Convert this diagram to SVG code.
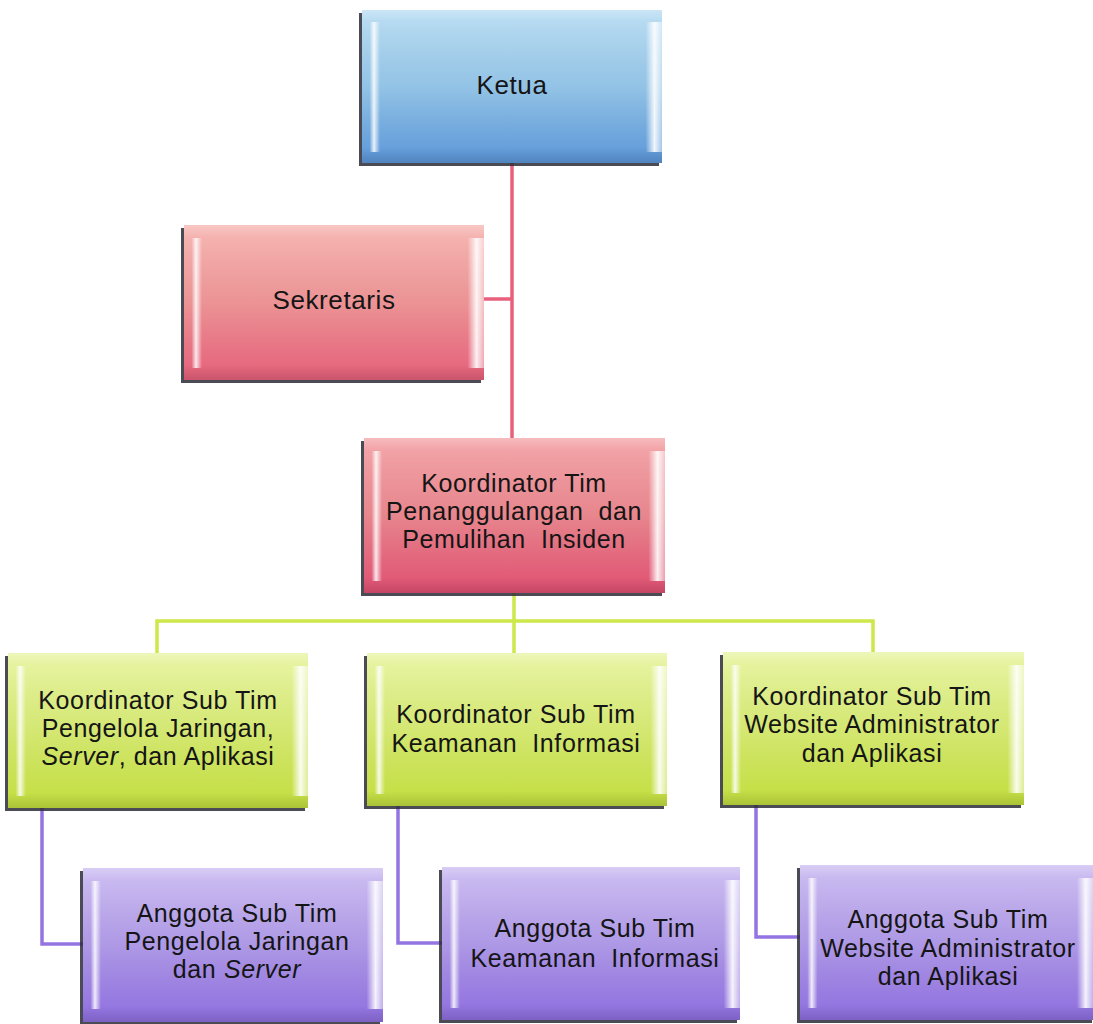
<svg xmlns="http://www.w3.org/2000/svg" width="1093" height="1024" viewBox="0 0 1093 1024">
<style>
  text{font-family:"Liberation Sans",Arial,sans-serif;font-size:25px;letter-spacing:0.6px;fill:#151515;text-anchor:middle;white-space:pre}
  .it{font-style:italic}
  .sh{fill:#2b2b38;opacity:.85}
  .bev{fill:url(#bev)}
  .bevv{fill:url(#bevv)}
  .con{fill:none;stroke-width:3.5}
</style>
<defs>
  <linearGradient id="gBlue" x1="0" y1="0" x2="0" y2="1">
    <stop offset="0" stop-color="#b4daf1"/><stop offset="0.5" stop-color="#94c6ea"/><stop offset="1" stop-color="#5b96d8"/>
  </linearGradient>
  <linearGradient id="gPink" x1="0" y1="0" x2="0" y2="1">
    <stop offset="0" stop-color="#f5b0ac"/><stop offset="0.5" stop-color="#f09496"/><stop offset="1" stop-color="#e5607a"/>
  </linearGradient>
  <linearGradient id="gRed" x1="0" y1="0" x2="0" y2="1">
    <stop offset="0" stop-color="#f29ea2"/><stop offset="0.5" stop-color="#ec868e"/><stop offset="1" stop-color="#df5072"/>
  </linearGradient>
  <linearGradient id="gGreen" x1="0" y1="0" x2="0" y2="1">
    <stop offset="0" stop-color="#e6f39c"/><stop offset="0.5" stop-color="#d8ec72"/><stop offset="1" stop-color="#c2dd3e"/>
  </linearGradient>
  <linearGradient id="gPurple" x1="0" y1="0" x2="0" y2="1">
    <stop offset="0" stop-color="#c8b8f0"/><stop offset="0.5" stop-color="#b09aea"/><stop offset="1" stop-color="#8e6ede"/>
  </linearGradient>
  <linearGradient id="bev" x1="0" y1="0" x2="1" y2="0">
    <stop offset="0" stop-color="#fff" stop-opacity="0"/>
    <stop offset="0.025" stop-color="#fff" stop-opacity="0"/>
    <stop offset="0.04" stop-color="#fff" stop-opacity="0.85"/>
    <stop offset="0.06" stop-color="#fff" stop-opacity="0"/>
    <stop offset="0.945" stop-color="#fff" stop-opacity="0"/>
    <stop offset="0.975" stop-color="#fff" stop-opacity="0.9"/>
    <stop offset="1" stop-color="#fff" stop-opacity="0.4"/>
  </linearGradient>
  <linearGradient id="bevv" x1="0" y1="0" x2="0" y2="1">
    <stop offset="0" stop-color="#fff" stop-opacity="0.3"/>
    <stop offset="0.08" stop-color="#fff" stop-opacity="0.08"/>
    <stop offset="0.9" stop-color="#000" stop-opacity="0"/>
    <stop offset="1" stop-color="#000" stop-opacity="0.12"/>
  </linearGradient>
</defs>
<rect width="1093" height="1024" fill="#fff"/>

<g id="connectors">
  <g stroke="#e8607c" class="con">
    <path d="M512,163 V438"/>
    <path d="M483,299 H512"/>
  </g>
  <g stroke="#cde84a" class="con">
    <path d="M514,593 V653"/>
    <path d="M157,653 V621 H873 V653"/>
  </g>
  <g stroke="#9474e2" class="con">
    <path d="M42,808 V944 H83"/>
    <path d="M398,806 V943 H442"/>
    <path d="M756,805 V937 H800"/>
  </g>
</g>

<g id="ketua">
  <rect class="sh" x="359" y="13" width="300" height="153"/>
  <rect x="362" y="10" width="300" height="153" fill="url(#gBlue)"/>
  <rect class="bevv" x="362" y="10" width="300" height="153"/>
  <rect class="bev" x="362" y="22" width="300" height="130"/>
  <text x="512" y="94" style="font-size:26px">Ketua</text>
</g>

<g id="sekretaris">
  <rect class="sh" x="181" y="228" width="300" height="155"/>
  <rect x="184" y="225" width="300" height="155" fill="url(#gPink)"/>
  <rect class="bevv" x="184" y="225" width="300" height="155"/>
  <rect class="bev" x="184" y="238" width="300" height="130"/>
  <text x="334" y="309" style="font-size:26px">Sekretaris</text>
</g>

<g id="koordinator-tim">
  <rect class="sh" x="361" y="441" width="301" height="155"/>
  <rect x="364" y="438" width="301" height="155" fill="url(#gRed)"/>
  <rect class="bevv" x="364" y="438" width="301" height="155"/>
  <rect class="bev" x="364" y="451" width="301" height="130"/>
  <text x="514" y="492">Koordinator Tim</text>
  <text x="514" y="520">Penanggulangan  dan</text>
  <text x="514" y="548">Pemulihan  Insiden</text>
</g>

<g id="sub-jaringan">
  <rect class="sh" x="5" y="656" width="300" height="155"/>
  <rect x="8" y="653" width="300" height="155" fill="url(#gGreen)"/>
  <rect class="bevv" x="8" y="653" width="300" height="155"/>
  <rect class="bev" x="8" y="666" width="300" height="130"/>
  <text x="158" y="709">Koordinator Sub Tim</text>
  <text x="158" y="737">Pengelola Jaringan,</text>
  <text x="158" y="765"><tspan class="it">Server</tspan>, dan Aplikasi</text>
</g>

<g id="sub-keamanan">
  <rect class="sh" x="364" y="656" width="300" height="153"/>
  <rect x="367" y="653" width="300" height="153" fill="url(#gGreen)"/>
  <rect class="bevv" x="367" y="653" width="300" height="153"/>
  <rect class="bev" x="367" y="666" width="300" height="128"/>
  <text x="516" y="723">Koordinator Sub Tim</text>
  <text x="516" y="752">Keamanan  Informasi</text>
</g>

<g id="sub-website">
  <rect class="sh" x="720" y="655" width="301" height="153"/>
  <rect x="723" y="652" width="301" height="153" fill="url(#gGreen)"/>
  <rect class="bevv" x="723" y="652" width="301" height="153"/>
  <rect class="bev" x="723" y="665" width="301" height="128"/>
  <text x="872" y="705">Koordinator Sub Tim</text>
  <text x="872" y="733">Website Administrator</text>
  <text x="872" y="762">dan Aplikasi</text>
</g>

<g id="anggota-jaringan">
  <rect class="sh" x="80" y="871" width="300" height="154"/>
  <rect x="83" y="868" width="300" height="154" fill="url(#gPurple)"/>
  <rect class="bevv" x="83" y="868" width="300" height="154"/>
  <rect class="bev" x="83" y="881" width="300" height="128"/>
  <text x="237" y="922">Anggota Sub Tim</text>
  <text x="237" y="950">Pengelola Jaringan</text>
  <text x="237" y="978">dan <tspan class="it">Server</tspan></text>
</g>

<g id="anggota-keamanan">
  <rect class="sh" x="439" y="870" width="298" height="153"/>
  <rect x="442" y="867" width="298" height="153" fill="url(#gPurple)"/>
  <rect class="bevv" x="442" y="867" width="298" height="153"/>
  <rect class="bev" x="442" y="880" width="298" height="128"/>
  <text x="595" y="937">Anggota Sub Tim</text>
  <text x="595" y="967">Keamanan  Informasi</text>
</g>

<g id="anggota-website">
  <rect class="sh" x="797" y="868" width="295" height="155"/>
  <rect x="800" y="865" width="293" height="155" fill="url(#gPurple)"/>
  <rect class="bevv" x="800" y="865" width="293" height="155"/>
  <rect class="bev" x="800" y="878" width="293" height="130"/>
  <text x="948" y="928">Anggota Sub Tim</text>
  <text x="948" y="957">Website Administrator</text>
  <text x="948" y="985">dan Aplikasi</text>
</g>
</svg>
